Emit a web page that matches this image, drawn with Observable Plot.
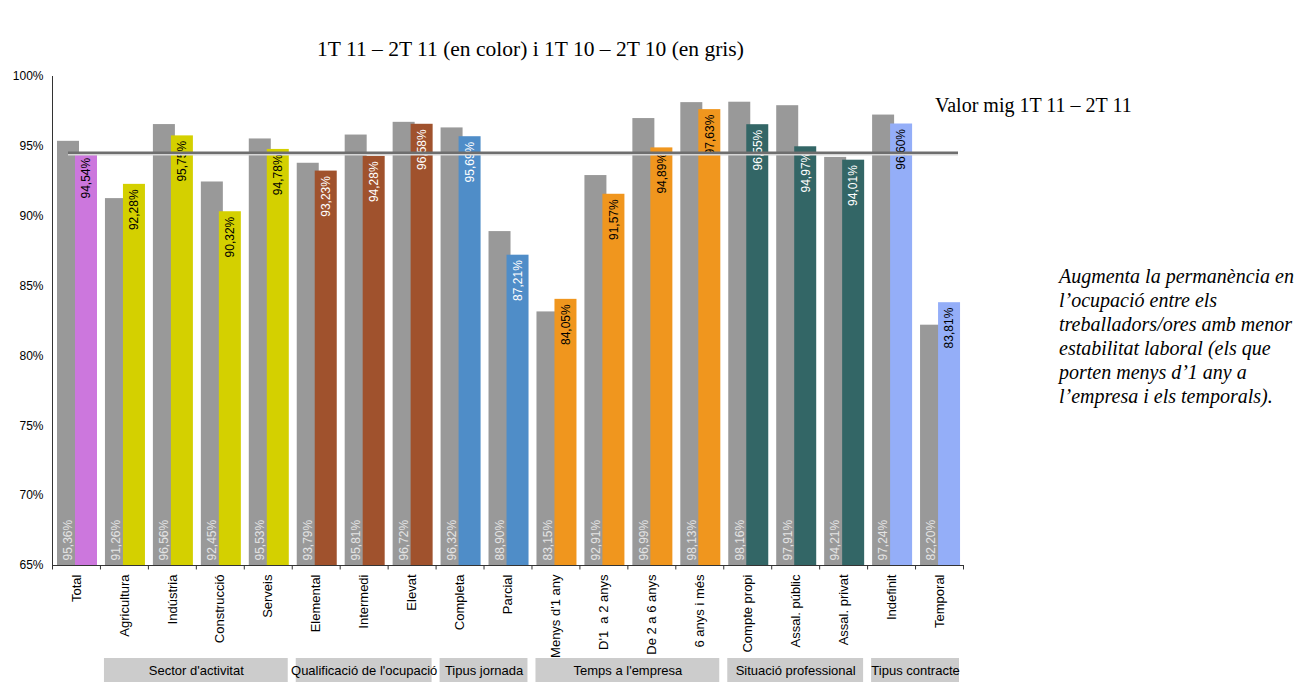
<!DOCTYPE html>
<html>
<head>
<meta charset="utf-8">
<script src="https://cdn.jsdelivr.net/npm/d3@7"></script>
<script src="https://cdn.jsdelivr.net/npm/@observablehq/plot@0.6"></script>
<style>
  body { margin: 0; background: #fff; }
  #wrap { position: relative; width: 1296px; height: 682px; overflow: hidden; background: #fff; }
  #main, #groups { position: absolute; left: 0; }
  #main { top: 0; }
  #groups { top: 655px; }
  .serif { position: absolute; font-family: "Liberation Serif", "Times New Roman", serif; font-size: 20px; line-height: 24px; color: #000; white-space: nowrap; }
  #title { left: 0; width: 1061px; text-align: center; top: 37px; font-size: 21.5px; }
  #legend { left: 935px; top: 93px; }
  #note { left: 1059px; top: 264px; font-style: italic; line-height: 24px; }
</style>
</head>
<body>
<div id="wrap">
  <div id="main"></div>
  <div id="groups"></div>
  <div class="serif" id="title">1T 11 – 2T 11 (en color) i 1T 10 – 2T 10 (en gris)</div>
  <div class="serif" id="legend">Valor mig 1T 11 – 2T 11</div>
  <div class="serif" id="note">Augmenta la permanència en<br>l’ocupació entre els<br>treballadors/ores amb menor<br>estabilitat laboral (els que<br>porten menys d’1 any a<br>l’empresa i els temporals).</div>
</div>
<script>
// ---- data ----
const categories = ["Total","Agricultura","Indústria","Construcció","Serveis","Elemental","Intermedi","Elevat","Completa","Parcial","Menys d'1 any","D'1  a 2 anys","De 2 a 6 anys","6 anys i més","Compte propi","Assal. públic","Assal. privat","Indefinit","Temporal"];
const prevValues = [95.36,91.26,96.56,92.45,95.53,93.79,95.81,96.72,96.32,88.90,83.15,92.91,96.99,98.13,98.16,97.91,94.21,97.24,82.20]; // 1T 10 – 2T 10 (gris)
const curValues  = [94.54,92.28,95.75,90.32,94.78,93.23,94.28,96.58,95.69,87.21,84.05,91.57,94.89,97.63,96.55,94.97,94.01,96.60,83.81]; // 1T 11 – 2T 11 (color)
const groupNames = ["Total","Sector d'activitat","Qualificació de l'ocupació","Tipus jornada","Temps a l'empresa","Situació professional","Tipus contracte"];
const groupSizes = [1,4,3,2,4,3,2];
const meanValue = [94.54];
const yTicks = [65,70,75,80,85,90,95,100];

// ---- styles ----
const groupColors = ["#cc77dd","#d4d000","#a0522d","#4f8dc8","#f0961e","#336666","#94aef8"];
const darkLabelGroups = ["Total","Sector d'activitat","Temps a l'empresa","Tipus contracte"];

const catGroup = [];
groupNames.forEach((g, i) => { for (let k = 0; k < groupSizes[i]; k++) catGroup.push(g); });
const data = categories.map((c, i) => ({cat: c, group: catGroup[i], prev: prevValues[i], cur: curValues[i]}));
const fmt = v => v.toFixed(2).replace(".", ",") + "%";

const W = 1296, ML = 52, MR = 333;
const bw = (W - ML - MR) / categories.length;
const half = bw / 2;

const main = Plot.plot({
  width: W, height: 682,
  marginLeft: ML, marginRight: MR, marginTop: 76, marginBottom: 117,
  style: {fontFamily: "'Liberation Sans', Arial, sans-serif", fontSize: "12px", background: "white", color: "#000"},
  x: {domain: categories, padding: 0, round: false, label: null, axis: null},
  y: {domain: [65, 100], label: null, axis: null},
  color: {domain: groupNames, range: groupColors},
  marks: [
    Plot.barY(data, {x: "cat", y1: 65, y2: "prev", fill: "#999999", insetLeft: 5, insetRight: bw - 27}),
    Plot.barY(data, {x: "cat", y1: 65, y2: "cur", fill: "group", insetLeft: 23, insetRight: bw - 45}),
    Plot.text(data, {x: "cat", y: 65, text: d => fmt(d.prev), rotate: -90, textAnchor: "start", dy: -5, dx: -8, fill: "#e4e4e4", fontSize: 12}),
    Plot.text(data, {filter: d => darkLabelGroups.includes(d.group), x: "cat", y: "cur", text: d => fmt(d.cur), rotate: -90, textAnchor: "end", dy: 5, dx: 10, fill: "#000", fontSize: 12}),
    Plot.text(data, {filter: d => !darkLabelGroups.includes(d.group), x: "cat", y: "cur", text: d => fmt(d.cur), rotate: -90, textAnchor: "end", dy: 5, dx: 10, fill: "#fff", fontSize: 12}),
    // axes lines and ticks
    Plot.ruleY([65], {stroke: "#333"}),
    Plot.ruleX([categories[0]], {x: d => d, y1: 65, y2: 100, dx: -half, stroke: "#333"}),
    Plot.ruleX(categories, {x: d => d, y1: 65, y2: 64.68, dx: -half, stroke: "#333"}),
    Plot.ruleX([categories[categories.length - 1]], {x: d => d, y1: 65, y2: 64.68, dx: half, stroke: "#333"}),
    Plot.axisX({tickSize: 0, tickPadding: 9, tickRotate: -90, fontSize: 13, fill: "#000"}),
    Plot.axisY({ticks: yTicks, tickSize: 0, tickPadding: 9, tickFormat: d => d + "%", fontSize: 12, fill: "#000"}),
    // mean line
    Plot.ruleY(meanValue, {stroke: "#d6d6d6", strokeWidth: 1.5, dy: 2, insetLeft: 16, insetRight: 5}),
    Plot.ruleY(meanValue, {stroke: "#6e6e6e", strokeWidth: 2.5, insetLeft: 16, insetRight: 5})
  ]
});
document.getElementById("main").appendChild(main);

// group boxes
const groupsData = [];
let start = 0;
groupNames.forEach((g, i) => {
  if (i > 0) groupsData.push({name: g, start, end: start + groupSizes[i]});
  start += groupSizes[i];
});
const groupsPlot = Plot.plot({
  width: W, height: 27,
  marginLeft: ML, marginRight: MR, marginTop: 3, marginBottom: 0,
  style: {fontFamily: "'Liberation Sans', Arial, sans-serif", fontSize: "13px", background: "transparent", color: "#000"},
  x: {domain: [0, categories.length], axis: null},
  marks: [
    Plot.rect(groupsData, {x1: "start", x2: "end", fill: "#cccccc", insetLeft: 4, insetRight: 4}),
    Plot.text(groupsData, {x: d => (d.start + d.end) / 2, text: "name", frameAnchor: "middle", fill: "#000", fontSize: 13})
  ]
});
document.getElementById("groups").appendChild(groupsPlot);
</script>
</body>
</html>
